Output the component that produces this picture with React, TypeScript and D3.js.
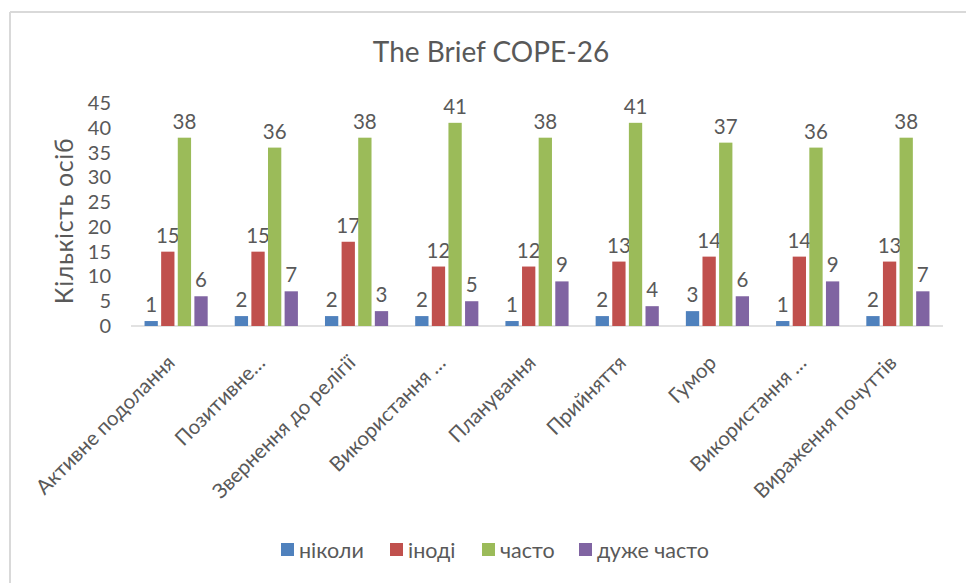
import React from "react";
import * as d3 from "d3";

const categories = [
  "Активне подолання",
  "Позитивне…",
  "Звернення до релігії",
  "Використання …",
  "Планування",
  "Прийняття",
  "Гумор",
  "Використання …",
  "Вираження почуттів",
];
const seriesNames = ["ніколи", "іноді", "часто", "дуже часто"];
const never = [1, 2, 2, 2, 1, 2, 3, 1, 2];
const sometimes = [15, 15, 17, 12, 12, 13, 14, 14, 13];
const often = [38, 36, 38, 41, 38, 41, 37, 36, 38];
const veryOften = [6, 7, 3, 5, 9, 4, 6, 9, 7];
const yTicks = [0, 5, 10, 15, 20, 25, 30, 35, 40, 45];
const colors = ["#4F81BD", "#C0504D", "#9BBB59", "#8064A2"];

const W = 966;
const H = 583;
const FONT = "Lato, 'Open Sans', sans-serif";
const TXT = "#595959";

export default function App() {
  const series = [never, sometimes, often, veryOften];
  const x0 = d3.scaleBand<number>().domain(d3.range(categories.length)).range([131, 943]).paddingInner(0.3).paddingOuter(0.15);
  const x1 = d3.scaleBand<number>().domain(d3.range(seriesNames.length)).range([0, x0.bandwidth()]).paddingInner(0.2).paddingOuter(0);
  const y = d3.scaleLinear().domain([0, 45]).range([326, 103]);

  const legendX = [281, 390, 482, 579];

  return (
    <svg width={W} height={H} style={{ position: "absolute", left: 0, top: 0, background: "#fff" }} fontFamily={FONT}>
      <rect x={0} y={0} width={W} height={H} fill="#fff" />
      <line x1={10} y1={12} x2={W} y2={12} stroke="#d9d9d9" strokeWidth={2} />
      <line x1={10} y1={12} x2={10} y2={H} stroke="#d9d9d9" strokeWidth={2} />
      <text x={491} y={62} textAnchor="middle" fontSize={28} fill={TXT}>The Brief COPE-26</text>

      {yTicks.map((t) => (
        <text key={t} x={111} y={y(t)} dy="0.35em" textAnchor="end" fontSize={20} fill={TXT}>{t}</text>
      ))}
      <text transform={`translate(73,221) rotate(-90)`} textAnchor="middle" fontSize={25} letterSpacing={0.6} fill={TXT}>Кількість осіб</text>

      <line x1={131} x2={943} y1={y(0)} y2={y(0)} stroke="#d9d9d9" strokeWidth={1.5} />

      {categories.map((c, i) => (
        <g key={i} transform={`translate(${x0(i)},0)`}>
          {series.map((s, j) => (
            <g key={j}>
              <rect x={x1(j)} y={y(s[i])} width={x1.bandwidth()} height={y(0) - y(s[i])} fill={colors[j]} />
              <text x={(x1(j) as number) + x1.bandwidth() / 2} y={y(s[i]) - 9} textAnchor="middle" fontSize={20.5} fill={TXT}>{s[i]}</text>
            </g>
          ))}
        </g>
      ))}

      {categories.map((c, i) => (
        <text key={i} transform={`translate(${(x0(i) as number) + x0.bandwidth() / 2 - 5},${y(0) + 33}) rotate(-45)`} textAnchor="end" dy="0.35em" fontSize={20.5} fill={TXT}>{c}</text>
      ))}

      {seriesNames.map((n, j) => (
        <g key={n} transform={`translate(${legendX[j]},550)`}>
          <rect x={0} y={-7} width={13} height={13} fill={colors[j]} />
          <text x={18} y={0} dy="0.35em" fontSize={21.5} fill={TXT}>{n}</text>
        </g>
      ))}
    </svg>
  );
}
